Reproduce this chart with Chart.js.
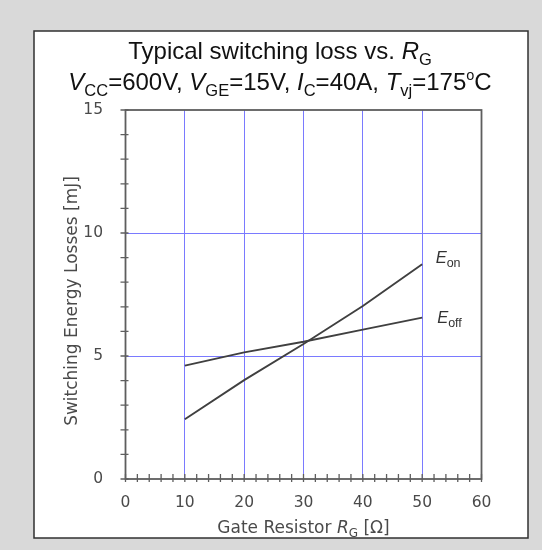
<!DOCTYPE html>
<html>
<head>
<meta charset="utf-8">
<script src="https://cdn.jsdelivr.net/npm/chart.js@4/dist/chart.umd.min.js"></script>
<style>
  html, body { margin: 0; padding: 0; background: #d9d9d9; }
  canvas { display: block; }
</style>
</head>
<body>
<canvas id="lossChart" width="542" height="550" style="width:542px;height:550px"></canvas>
<script>
// Gate resistance [Ω] and switching energies [mJ]
const gateResistance = [10, 20, 30, 40, 50];
const lossOn = [2.43, 4.02, 5.49, 7.03, 8.73];
const lossOff = [4.61, 5.15, 5.58, 6.07, 6.56];

// Labelled tick values
const xTickLabels = [0, 10, 20, 30, 40, 50, 60];
const yTickLabels = [0, 5, 10, 15];

// Styling
const GRID = '#7a7aff';
const AXIS = '#5e5e5e';
const INK = '#4a4a4a';
const LINE = '#404040';
const SANS = '"Liberation Sans", Arial, sans-serif';
const VERD = '"DejaVu Sans", Verdana, sans-serif';
const FRAME = { left: 34, top: 31, right: 528, bottom: 538 };

// Draws a run of text pieces: [text, kind] with kind '', 'i', 'sub', 'sup'
function drawRich(ctx, parts, x, baseline, spec, align) {
  const fontOf = kind => {
    if (kind === 'i') return 'italic ' + spec.size + 'px ' + spec.family;
    if (kind === 'sub') return spec.subSize + 'px ' + spec.family;
    if (kind === 'sup') return spec.supSize + 'px ' + spec.family;
    return spec.size + 'px ' + spec.family;
  };
  let total = 0;
  const widths = parts.map(([t, k]) => {
    ctx.font = fontOf(k);
    const w = ctx.measureText(t).width;
    total += w;
    return w;
  });
  let cx = align === 'center' ? x - total / 2 : x;
  ctx.textAlign = 'left';
  ctx.textBaseline = 'alphabetic';
  parts.forEach(([t, k], i) => {
    ctx.font = fontOf(k);
    const dy = k === 'sub' ? spec.subShift : (k === 'sup' ? -spec.supShift : 0);
    ctx.fillText(t, cx, baseline + dy);
    cx += widths[i];
  });
}

const decorations = {
  id: 'decorations',
  beforeDraw(chart) {
    const ctx = chart.ctx;
    ctx.save();
    ctx.fillStyle = '#d9d9d9';
    ctx.fillRect(0, 0, chart.width, chart.height);
    ctx.fillStyle = '#ffffff';
    ctx.fillRect(FRAME.left, FRAME.top, FRAME.right - FRAME.left, FRAME.bottom - FRAME.top);
    ctx.strokeStyle = '#303030';
    ctx.lineWidth = 1.5;
    ctx.strokeRect(FRAME.left, FRAME.top, FRAME.right - FRAME.left, FRAME.bottom - FRAME.top);

    // Title
    ctx.fillStyle = '#111111';
    const titleSpec = { family: SANS, size: 24, subSize: 16.5, subShift: 6, supSize: 14.5, supShift: 9.5 };
    const cx = (FRAME.left + FRAME.right) / 2 - 1;
    drawRich(ctx, [['Typical switching loss vs. ', ''], ['R', 'i'], ['G', 'sub']], cx, 59, titleSpec, 'center');
    drawRich(ctx, [
      ['V', 'i'], ['CC', 'sub'], ['=600V, ', ''],
      ['V', 'i'], ['GE', 'sub'], ['=15V, ', ''],
      ['I', 'i'], ['C', 'sub'], ['=40A, ', ''],
      ['T', 'i'], ['vj', 'sub'], ['=175', ''], ['o', 'sup'], ['C', '']
    ], cx, 89.5, titleSpec, 'center');

    // Axis titles
    const area = chart.chartArea;
    ctx.fillStyle = INK;
    const axisSpec = { family: VERD, size: 17, subSize: 12, subShift: 4, supSize: 12, supShift: 6 };
    drawRich(ctx, [['Gate Resistor ', ''], ['R', 'i'], ['G', 'sub'], [' [Ω]', '']],
      (area.left + area.right) / 2, 532.5, axisSpec, 'center');
    ctx.save();
    ctx.translate(76.5, 301);
    ctx.rotate(-Math.PI / 2);
    drawRich(ctx, [['Switching Energy Losses [mJ]', '']], 0, 0, axisSpec, 'center');
    ctx.restore();
    ctx.restore();
  },
  afterDatasetsDraw(chart) {
    const ctx = chart.ctx;
    const { left, top, right, bottom } = chart.chartArea;
    const xs = chart.scales.x, ys = chart.scales.y;
    ctx.save();
    // Plot frame
    ctx.strokeStyle = AXIS;
    ctx.lineWidth = 1.8;
    ctx.strokeRect(left, top, right - left, bottom - top);
    // Tick marks crossing the axes
    ctx.lineWidth = 1.3;
    ctx.beginPath();
    xs.ticks.forEach(t => {
      const px = xs.getPixelForValue(t.value);
      ctx.moveTo(px, bottom - 5);
      ctx.lineTo(px, bottom + 3);
    });
    ys.ticks.forEach(t => {
      const py = ys.getPixelForValue(t.value);
      ctx.moveTo(left - 5, py);
      ctx.lineTo(left + 3, py);
    });
    ctx.stroke();

    // Series labels at the end of each curve
    ctx.fillStyle = '#333333';
    const labelSpec = { family: SANS, size: 16.5, subSize: 12.5, subShift: 4, supSize: 12, supShift: 6 };
    chart.data.datasets.forEach((ds, i) => {
      const meta = chart.getDatasetMeta(i);
      const last = meta.data[meta.data.length - 1];
      const off = ds.labelOffset;
      drawRich(ctx, [['E', 'i'], [ds.labelSub, 'sub']], last.x + off[0], last.y + off[1], labelSpec, 'left');
    });
    ctx.restore();
  }
};

const toPoints = ys => gateResistance.map((r, i) => ({ x: r, y: ys[i] }));

new Chart(document.getElementById('lossChart'), {
  type: 'line',
  data: {
    datasets: [
      { label: 'Eon', labelSub: 'on', labelOffset: [13.5, -1], data: toPoints(lossOn),
        borderColor: LINE, borderWidth: 1.9, pointRadius: 0, tension: 0, fill: false },
      { label: 'Eoff', labelSub: 'off', labelOffset: [15, 5], data: toPoints(lossOff),
        borderColor: LINE, borderWidth: 1.9, pointRadius: 0, tension: 0, fill: false }
    ]
  },
  options: {
    responsive: false,
    animation: false,
    events: [],
    layout: { padding: { left: 0, top: 110, right: 60.5, bottom: 0 } },
    plugins: { legend: { display: false }, title: { display: false }, tooltip: { enabled: false } },
    scales: {
      x: {
        type: 'linear',
        min: xTickLabels[0],
        max: xTickLabels[xTickLabels.length - 1],
        afterFit: s => { s.height = 71; },
        border: { display: false },
        grid: {
          drawTicks: false,
          lineWidth: 1,
          color: c => {
            const v = c.tick && c.tick.value;
            return (xTickLabels.includes(v) && v !== xTickLabels[0] && v !== xTickLabels[xTickLabels.length - 1]) ? GRID : 'rgba(0,0,0,0)';
          }
        },
        ticks: {
          stepSize: 2,
          autoSkip: false,
          maxRotation: 0,
          padding: 15,
          color: INK,
          font: { family: VERD, size: 15.5 },
          callback: v => (xTickLabels.includes(v) ? String(v) : '')
        }
      },
      y: {
        type: 'linear',
        min: yTickLabels[0],
        max: yTickLabels[yTickLabels.length - 1],
        afterFit: s => { s.width = 125.5; },
        border: { display: false },
        grid: {
          drawTicks: false,
          lineWidth: 1,
          color: c => {
            const v = c.tick && c.tick.value;
            return (yTickLabels.includes(v) && v !== yTickLabels[0] && v !== yTickLabels[yTickLabels.length - 1]) ? GRID : 'rgba(0,0,0,0)';
          }
        },
        ticks: {
          stepSize: 1,
          autoSkip: false,
          padding: 22.5,
          color: INK,
          font: { family: VERD, size: 15.5 },
          callback: v => (yTickLabels.includes(v) ? String(v) : '')
        }
      }
    }
  },
  plugins: [decorations]
});
</script>
</body>
</html>
